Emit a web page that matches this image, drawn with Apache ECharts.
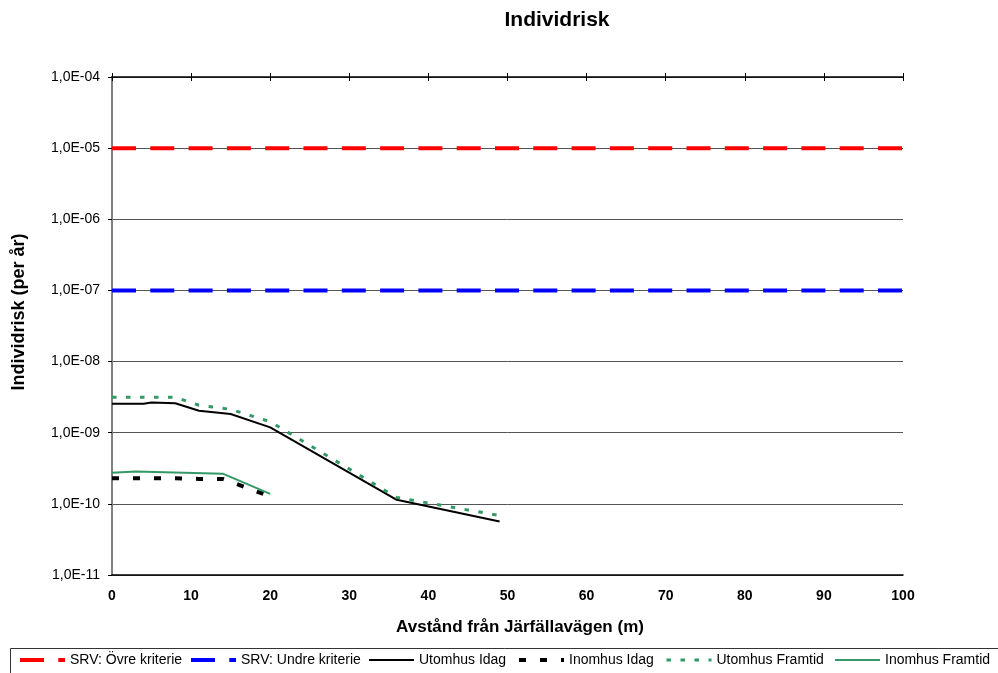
<!DOCTYPE html>
<html>
<head>
<meta charset="utf-8">
<script src="https://cdn.jsdelivr.net/npm/echarts@6/dist/echarts.min.js"></script>
<style>
  html, body { margin: 0; padding: 0; background: #fff; }
  #chart { width: 998px; height: 673px; }
</style>
</head>
<body>
<div id="chart"></div>
<script>
// avstånd (m) och individrisk (per år), avlästa ur originalet
var srvX = [0, 100];
var srvOvre = [1e-5, 1e-5];
var srvUndre = [1e-7, 1e-7];

var utomhusIdagX = [0, 4, 5, 8, 11, 15, 20, 36, 49];
var utomhusIdag = [2.55e-9, 2.55e-9, 2.66e-9, 2.6e-9, 2.04e-9, 1.83e-9, 1.19e-9, 1.14e-10, 5.65e-11];

var inomhusIdagX = [0, 8, 11, 14, 20];
var inomhusIdag = [2.29e-10, 2.29e-10, 2.24e-10, 2.24e-10, 1.27e-10];

var utomhusFramtidX = [0, 8, 11, 15, 20, 36, 49];
var utomhusFramtid = [3.15e-9, 3.15e-9, 2.43e-9, 2.13e-9, 1.43e-9, 1.23e-10, 6.85e-11];

var inomhusFramtidX = [0, 3, 14, 20];
var inomhusFramtid = [2.74e-10, 2.85e-10, 2.66e-10, 1.38e-10];

var seriesNames = ['SRV: Övre kriterie', 'SRV: Undre kriterie', 'Utomhus Idag', 'Inomhus Idag', 'Utomhus Framtid', 'Inomhus Framtid'];

// utseende per serie (färg, linjebredd, streckmönster) och legendens x-lägen
var styles = [
    { color: '#ff0000', width: 4, dash: [24, 14.3] },
    { color: '#0000ff', width: 4, dash: [24, 14.3] },
    { color: '#000000', width: 2, dash: 'solid' },
    { color: '#000000', width: 4, dash: [7, 14] },
    { color: '#339966', width: 3, dash: [4.5, 9.5] },
    { color: '#339966', width: 2, dash: 'solid' }
];
var legendLeft = [18, 189, 368, 517, 665, 834];

function pairs(xs, ys) {
    return xs.map(function (x, i) { return [x, ys[i]]; });
}

function expLabel(v) {
    var e = Math.round(Math.log(v) / Math.LN10);
    var a = Math.abs(e);
    return '1,0E' + (e < 0 ? '-' : '+') + (a < 10 ? '0' + a : a);
}

function line(i, data) {
    var s = styles[i];
    return {
        name: seriesNames[i],
        type: 'line',
        data: data,
        symbol: 'none',
        silent: true,
        lineStyle: { color: s.color, width: s.width, type: s.dash, cap: 'butt' },
        itemStyle: { color: s.color }
    };
}

var font = 'Liberation Sans, Arial, sans-serif';

// en legend per post så att positionerna stämmer med originalet
var legends = seriesNames.map(function (n, i) {
    return {
        data: [n],
        left: legendLeft[i],
        top: 653,
        padding: 0,
        itemWidth: 45,
        itemHeight: 14,
        itemStyle: { opacity: 0 },
        lineStyle: { width: styles[i].width },
        textStyle: { fontFamily: font, fontSize: 14, color: '#000' }
    };
});

var xBase = { type: 'value', min: 0, max: 100, interval: 10, splitLine: { show: false } };

var option = {
    backgroundColor: '#fff',
    animation: false,
    legend: legends,
    grid: { left: 112, right: 95, top: 77, bottom: 98, containLabel: false },
    xAxis: [
        Object.assign({}, xBase, {
            position: 'bottom',
            axisLine: { lineStyle: { color: '#000', width: 1.5 } },
            axisTick: { show: false },
            axisLabel: { margin: 14, color: '#000', fontFamily: font, fontSize: 14, fontWeight: 'bold' }
        }),
        Object.assign({}, xBase, {
            position: 'top',
            axisLine: { lineStyle: { color: '#000', width: 1.5 } },
            axisTick: { show: true, length: 4, lineStyle: { color: '#000' } },
            axisLabel: { show: false }
        }),
        Object.assign({}, xBase, {
            position: 'top',
            axisLine: { show: false },
            axisTick: { show: true, inside: true, length: 4, lineStyle: { color: '#000' } },
            axisLabel: { show: false }
        })
    ],
    yAxis: [
        {
            type: 'log',
            logBase: 10,
            min: 1e-11,
            max: 1e-4,
            splitNumber: 7,
            axisLine: { show: true, lineStyle: { color: '#000', width: 1.5 } },
            axisTick: { show: true, length: 4, lineStyle: { color: '#000' } },
            axisLabel: { margin: 12, color: '#000', fontFamily: font, fontSize: 14, formatter: expLabel },
            splitLine: { show: true, lineStyle: { color: '#555', width: 1 } },
            minorTick: { show: false }
        },
        {
            type: 'log',
            logBase: 10,
            min: 1e-11,
            max: 1e-4,
            position: 'right',
            axisLine: { show: true, lineStyle: { color: '#808080', width: 2 } },
            axisTick: { show: false },
            axisLabel: { show: false },
            splitLine: { show: false }
        }
    ],
    graphic: [
        {
            type: 'text', x: 557, y: 20,
            style: { text: 'Individrisk', fill: '#000', font: 'bold 21px ' + font, align: 'center', verticalAlign: 'middle' }
        },
        {
            type: 'text', x: 520, y: 627,
            style: { text: 'Avstånd från Järfällavägen (m)', fill: '#000', font: 'bold 17px ' + font, align: 'center', verticalAlign: 'middle' }
        },
        {
            type: 'text', x: 19.5, y: 312, rotation: Math.PI / 2,
            style: { text: 'Individrisk (per år)', fill: '#000', font: 'bold 18px ' + font, align: 'center', verticalAlign: 'middle' }
        },
        {
            type: 'rect', silent: true, z: -1,
            shape: { x: 10.5, y: 648.5, width: 1000, height: 40 },
            style: { fill: 'none', stroke: '#333', lineWidth: 1 }
        }
    ],
    series: [
        line(0, pairs(srvX, srvOvre)),
        line(1, pairs(srvX, srvUndre)),
        line(2, pairs(utomhusIdagX, utomhusIdag)),
        line(3, pairs(inomhusIdagX, inomhusIdag)),
        line(4, pairs(utomhusFramtidX, utomhusFramtid)),
        line(5, pairs(inomhusFramtidX, inomhusFramtid))
    ]
};

var myChart = echarts.init(document.getElementById('chart'), null, { renderer: 'canvas' });
myChart.setOption(option);
</script>
</body>
</html>
